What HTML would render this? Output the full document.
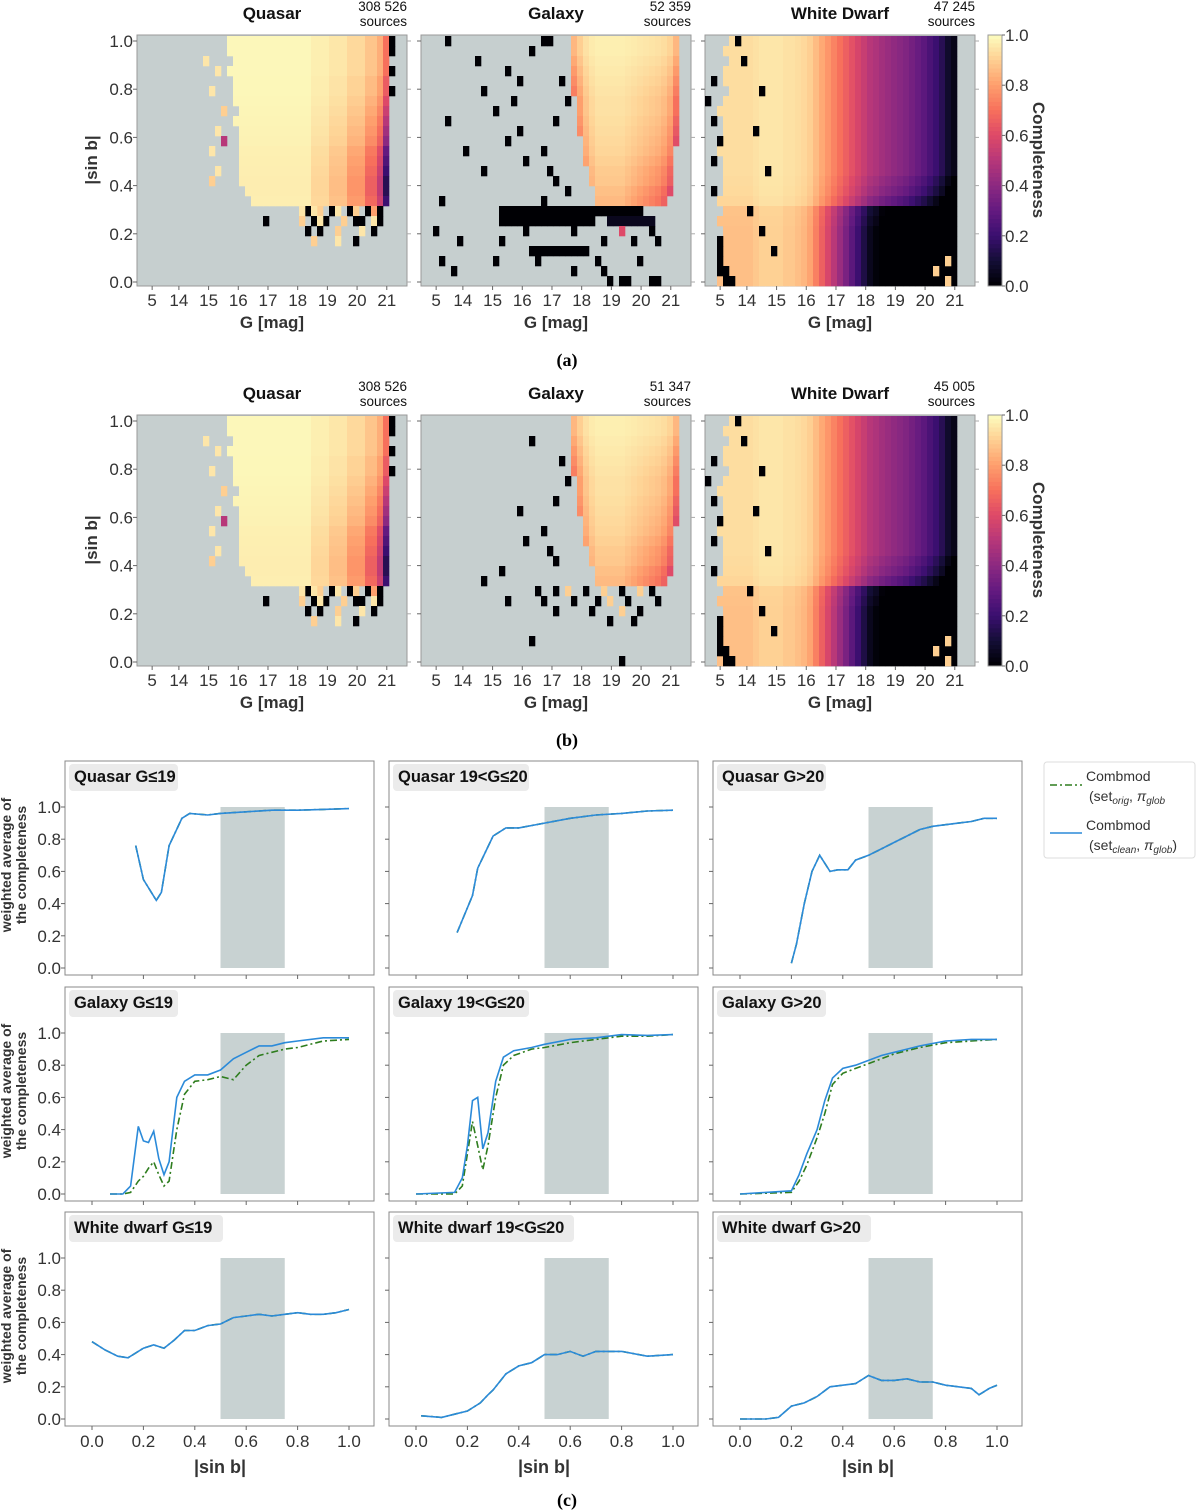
<!DOCTYPE html>
<html><head><meta charset="utf-8">
<style>
html,body{margin:0;padding:0;background:#fff;}
svg{display:block;font-family:"Liberation Sans","DejaVu Sans",sans-serif;}
.tk{font-family:"Liberation Sans Narrow","Liberation Sans",sans-serif;font-size:17px;fill:#333;}
.bold{font-weight:bold;fill:#333;}
</style></head>
<body>
<svg id="fig" width="1200" height="1512" viewBox="0 0 1200 1512" xmlns="http://www.w3.org/2000/svg"></svg>
<script>
// ---------- heatmap data (25 rows from |sin b|=1 downward, 45 magnitude columns) ----------
const quasarRowStart=[15,15,16,15,16,16,16,17,16,17,17,17,17,17,17,18,19,50,50,50,50,50,50,50,50];
const quasarRowEnd=[41,41,41,41,41,41,41,41,41,41,41,41,41,41,41,41,41,0,0,0,0,0,0,0,0];
const quasarColVal=[1,1,1,1,1,1,1,1,1,1,1,1,1,1,1,.98,.98,.98,.98,.98,.98,.98,.98,.98,.98,.98,.98,.98,.98,.95,.95,.95,.92,.92,.92,.87,.87,.87,.8,.8,.72,.5,.3,.3,.3];
const quasarRowScale=[.6,.6,.6,.6,.7,.7,.8,.9,1,1.1,1.2,1.4,1.5,1.6,1.7,1.7,1.6,1,1,1,1,1,1,1,1];
const quasarSpeckles=[[0,42,0],[1,42,0],[3,42,0],[5,42,0],[3,13,.95],[5,12,.95],[7,14,.9],[9,13,.95],[11,12,.95],[13,13,.95],[14,12,.9],[2,11,.95],[10,14,.5],
 [17,28,0],[17,30,.9],[17,32,0],[17,33,.95],[17,35,0],[17,36,.9],[17,38,0],[17,39,.8],[17,40,0],[17,27,.95],[17,29,.95],
 [18,27,.9],[18,29,0],[18,31,0],[18,34,.9],[18,36,0],[18,37,0],[18,39,.95],[18,40,0],[18,21,0],[18,30,.95],
 [19,28,0],[19,30,0],[19,33,.9],[19,37,.95],[19,39,0],[20,33,.95],[20,36,0],[20,29,.9]];
const galaxyRowStart=[25,25,25,25,25,25,26,26,26,26,27,27,27,28,28,29,29,50,50,50,50,50,50,50,50];
const galaxyRowEnd=[42,42,42,42,42,42,42,42,42,42,42,41,41,41,41,41,40,0,0,0,0,0,0,0,0];
const galaxyColVal=[1,1,1,1,1,1,1,1,1,1,1,1,1,1,1,1,1,1,1,1,1,1,1,1,.6,.7,.8,.88,.92,.94,.94,.94,.94,.94,.93,.92,.91,.9,.89,.88,.86,.82,.7,.6,.6];
const galaxyRowScale=[.5,.5,.6,.7,.8,.9,1,1,1.1,1.2,1.3,1.4,1.6,1.8,1.9,2.2,2.4,1,1,1,1,1,1,1,1];
const galaxyBandsA=[[17,13,36,0],[18,13,28,0],[18,31,38,.05],[21,18,27,0]];
const galaxySpecklesA=[[0,4,0],[0,20,0],[0,21,0],[1,18,0],[2,9,.0],[3,14,0],[4,16,0],[4,23,0],[5,10,0],[6,15,0],[6,24,0],[7,12,0],[8,4,0],[8,22,0],[9,16,0],[10,14,0],[11,7,0],[11,20,0],[12,17,0],[13,21,0],[13,10,0],[14,22,0],[15,24,.0],[16,3,0],[16,20,0],[19,2,0],[19,17,0],[19,25,0],[19,33,.6],[19,38,0],[20,6,0],[20,13,0],[20,30,0],[20,35,0],[20,39,0],[22,3,0],[22,12,0],[22,19,0],[22,29,0],[22,36,0],[23,5,0],[23,25,0],[23,30,0],[24,31,0],[24,33,0],[24,34,0],[24,38,0],[24,39,0]];
const galaxyBandsB=[];
const galaxySpecklesB=[[2,18,0],[4,23,0],[6,24,0],[8,22,0],[9,16,0],[11,20,0],[12,17,0],[13,21,0],[14,22,0],[15,13,0],[16,10,0],[17,19,0],[17,22,0],[17,24,.9],[17,27,0],[17,30,.9],[17,33,0],[17,36,.9],[17,38,0],[18,14,0],[18,20,0],[18,25,0],[18,29,0],[18,31,.9],[18,34,0],[18,39,0],[19,22,0],[19,28,0],[19,33,.9],[19,36,0],[20,31,0],[20,35,0],[22,18,0],[24,33,0]];
const wdRowStart=[4,3,4,3,3,4,3,2,3,3,3,2,3,3,3,3,2,3,2,3,2,2,2,2,2];
const wdRowEnd=[41,41,41,41,41,41,41,41,41,41,41,41,41,41,41,41,41,41,41,41,41,41,41,41,41];
const wdColVal=[.93,.93,.93,.93,.93,.93,.93,.93,.94,.95,.95,.95,.95,.94,.94,.93,.92,.9,.86,.82,.78,.74,.7,.66,.62,.58,.54,.5,.48,.45,.43,.41,.39,.37,.34,.31,.28,.24,.2,.15,.08,.04,0,0,0];
const wdRowScale=[1,1,1,1,1,1,1,1,1,1,1,1,1,1,1.05,1.1,1.2,1.8,1.85,1.9,1.9,1.9,1.9,1.9,1.9];
const wdSpeckles=[[0,5,0],[2,6,0],[4,1,0],[6,0,0],[8,1,0],[10,2,0],[12,1,0],[15,1,0],[20,2,0],[21,2,0],[22,2,0],[23,2,0],[23,3,0],[24,3,0],[24,4,0],[23,38,.9],[24,40,.9],[22,40,.9],[5,9,0],[9,8,0],[13,10,0],[17,7,0],[19,9,0],[21,11,0]];
const heatTitles=["Quasar","Galaxy","White Dwarf"];
const countsA=["308 526","52 359","47 245"];
const countsB=["308 526","51 347","45 005"];
const gTickVals=[13.1,14,15,16,17,18,19,20,21];
const gTickLabels=["5","14","15","16","17","18","19","20","21"];
const sinTicks=[0,0.2,0.4,0.6,0.8,1.0];
const cbarTicks=[0,0.2,0.4,0.6,0.8,1.0];

// ---------- line panel data ----------
const qLowX=[.17,.2,.25,.27,.3,.35,.38,.45,.5,.6,.7,.8,.9,1.0];
const qLowY=[.76,.55,.42,.47,.76,.93,.96,.95,.96,.97,.98,.98,.985,.99];
const qMidX=[.16,.22,.24,.27,.3,.35,.4,.5,.6,.7,.8,.9,1.0];
const qMidY=[.22,.45,.62,.72,.82,.87,.87,.90,.93,.95,.96,.975,.98];
const qHighX=[.2,.22,.25,.28,.31,.35,.38,.4,.42,.45,.5,.55,.6,.65,.7,.75,.8,.85,.9,.95,1.0];
const qHighY=[.03,.15,.40,.60,.70,.60,.61,.61,.61,.67,.70,.74,.78,.82,.86,.88,.89,.90,.91,.93,.93];
const gLowX=[.07,.12,.15,.18,.2,.22,.24,.26,.28,.3,.33,.36,.4,.45,.5,.55,.6,.65,.7,.75,.8,.9,1.0];
const gLowBlue=[0,0,.05,.42,.33,.32,.39,.22,.12,.2,.6,.70,.74,.74,.77,.84,.88,.92,.92,.94,.95,.97,.97];
const gLowGreen=[0,0,.01,.08,.11,.16,.20,.12,.05,.08,.40,.62,.70,.71,.73,.71,.80,.86,.88,.90,.91,.95,.96];
const gMidX=[0,.15,.18,.2,.22,.24,.26,.28,.31,.34,.38,.45,.5,.6,.7,.8,.9,1.0];
const gMidBlue=[0,.01,.1,.3,.58,.60,.28,.38,.70,.85,.89,.91,.93,.96,.97,.99,.985,.99];
const gMidGreen=[0,0,.05,.25,.45,.30,.15,.30,.60,.80,.86,.90,.91,.94,.96,.98,.98,.99];
const gHighX=[0,.1,.2,.23,.26,.3,.33,.36,.4,.45,.5,.55,.6,.65,.7,.8,.9,1.0];
const gHighBlue=[0,.01,.02,.12,.25,.40,.58,.72,.78,.80,.83,.86,.88,.90,.92,.95,.96,.96];
const gHighGreen=[0,.005,.01,.08,.18,.35,.50,.68,.75,.78,.81,.84,.87,.89,.91,.94,.95,.96];
const wLowX=[0,.05,.1,.14,.2,.24,.28,.32,.36,.4,.45,.5,.55,.6,.65,.7,.75,.8,.85,.9,.95,1.0];
const wLowY=[.48,.43,.39,.38,.44,.46,.44,.49,.55,.55,.58,.59,.63,.64,.65,.64,.65,.66,.65,.65,.66,.68];
const wMidX=[.02,.1,.15,.2,.25,.28,.3,.35,.4,.45,.5,.55,.6,.65,.7,.75,.8,.9,1.0];
const wMidY=[.02,.01,.03,.05,.1,.15,.18,.28,.33,.35,.40,.40,.42,.39,.42,.42,.42,.39,.40];
const wHighX=[0,.1,.15,.2,.25,.3,.35,.4,.45,.5,.55,.6,.65,.7,.75,.8,.85,.9,.93,.97,1.0];
const wHighY=[0,0,.01,.08,.1,.14,.2,.21,.22,.27,.24,.24,.25,.23,.23,.21,.2,.19,.15,.19,.21];
const yTicksLine=[0,0.2,0.4,0.6,0.8,1.0];
const xTicksLine=[0,0.2,0.4,0.6,0.8,1.0];

const NS="http://www.w3.org/2000/svg";
const svg=document.getElementById('fig');
function el(tag,attrs,parent,text){const e=document.createElementNS(NS,tag);for(const k in attrs)e.setAttribute(k,attrs[k]);if(text!==undefined)e.textContent=text;(parent||svg).appendChild(e);return e;}
const magma=[[0,0,4],[20,14,54],[59,15,112],[100,26,128],[140,41,129],[183,55,121],[222,73,104],[247,112,92],[254,159,109],[254,207,146],[252,253,191]];
function cmap(v){v=Math.max(0,Math.min(1,v));const t=v*10;const i=Math.min(9,Math.floor(t));const f=t-i;const a=magma[i],b=magma[i+1];return 'rgb('+a.map((x,k)=>Math.round(x+(b[k]-x)*f)).join(',')+')';}

const HEAT_W=270,HEAT_H=251,CELL_W=6,CELL_H=10;
function gScale(left,g){return left+(g-12.59)*29.7;}
function sScale(top,s){return top+247-241*s;}

function drawHeat(left,top,idx,title,count,rs,re,cv,rsc,bands,speck,showY){
  const g=el('g',{},svg);
  
  
  const bg=el('rect',{x:left,y:top,width:HEAT_W,height:HEAT_H,fill:'#c6cfcf',stroke:'#999','stroke-width':1},g);
  
  
  function cell(r,c,v){
    const x=left+c*CELL_W, y=top+1+r*CELL_H;
    if(x+CELL_W>left+HEAT_W)return;
    const rc=el('rect',{x:x,y:y,width:CELL_W+0.3,height:CELL_H+0.3,fill:cmap(v)},g);
    
    
  }
  for(let r=0;r<25;r++){for(let c=rs[r];c<=re[r];c++){cell(r,c,1-(1-cv[c])*rsc[r]);}}
  bands.forEach(b=>{for(let c=b[1];c<=b[2];c++)cell(b[0],c,b[3]);});
  speck.forEach(s=>cell(s[0],s[1],s[2]));
  const t=el('text',{x:left+135,y:top-16,'text-anchor':'middle','font-size':17,'font-weight':'bold',fill:'#111'},svg,title);
  
  
  const c1=el('text',{x:left+270,y:top-24,'text-anchor':'end','font-size':13.5,fill:'#111'},svg,count);
  
  
  const c2=el('text',{x:left+270,y:top-9,'text-anchor':'end','font-size':13.5,fill:'#111'},svg,'sources');
  
  
  gTickVals.forEach((gv,i)=>{const x=gScale(left,gv);
    el('line',{x1:x,x2:x,y1:top+HEAT_H,y2:top+HEAT_H+4,stroke:'#666'},svg);
    const tl=el('text',{x:x,y:top+HEAT_H+20,'text-anchor':'middle',class:'tk'},svg,gTickLabels[i]);
    
    });
  const xl=el('text',{x:left+135,y:top+HEAT_H+42,'text-anchor':'middle','font-size':17,class:'bold'},svg,'G [mag]');
  
  
  sinTicks.forEach(s=>{const y=sScale(top,s);
    el('line',{x1:left-4,x2:left,y1:y,y2:y,stroke:'#666'},svg);
    el('line',{x1:left+HEAT_W,x2:left+HEAT_W+4,y1:y,y2:y,stroke:'#aaa'},svg);
    if(showY){const tl=el('text',{x:left-4,y:y+6,'text-anchor':'end',class:'tk'},svg,s.toFixed(1));
      
      }});
  if(showY){const yl=el('text',{x:0,y:0,transform:'translate('+(left-40)+','+(top+125)+') rotate(-90)','text-anchor':'middle','font-size':17,class:'bold'},svg,'|sin b|');
    
    }
}
function drawColorbar(top){
  const g=el('g',{},svg);
  
  
  const n=60;
  for(let i=0;i<n;i++){const v=1-i/n;el('rect',{x:988,y:top+i*HEAT_H/n,width:14,height:HEAT_H/n+0.5,fill:cmap(v-0.5/n)},g);}
  el('rect',{x:988,y:top,width:14,height:HEAT_H,fill:'none',stroke:'#999'},g);
  cbarTicks.forEach(v=>{const y=top+HEAT_H-HEAT_H*v;
    el('line',{x1:1002,x2:1005,y1:y,y2:y,stroke:'#666'},g);
    const t=el('text',{x:1005,y:y+6,class:'tk'},g,v.toFixed(1));
    
    });
  const l=el('text',{x:0,y:0,transform:'translate(1033,'+(top+125)+') rotate(90)','text-anchor':'middle','font-size':17,class:'bold'},g,'Completeness');
  
  
}
const heatLefts=[137,421,705];
[[35,countsA,galaxyBandsA,galaxySpecklesA],[415,countsB,galaxyBandsB,galaxySpecklesB]].forEach((cfg,k)=>{
  const top=cfg[0];
  drawHeat(heatLefts[0],top,0,heatTitles[0],cfg[1][0],quasarRowStart,quasarRowEnd,quasarColVal,quasarRowScale,[],quasarSpeckles,true);
  drawHeat(heatLefts[1],top,1,heatTitles[1],cfg[1][1],galaxyRowStart,galaxyRowEnd,galaxyColVal,galaxyRowScale,cfg[2],cfg[3],false);
  drawHeat(heatLefts[2],top,2,heatTitles[2],cfg[1][2],wdRowStart,wdRowEnd,wdColVal,wdRowScale,[],wdSpeckles,false);
  drawColorbar(top);
});
const capA=el('text',{x:567,y:366,'text-anchor':'middle','font-family':'Liberation Serif,serif','font-size':18,'font-weight':'bold'},svg,'(a)');


const capB=el('text',{x:567,y:746,'text-anchor':'middle','font-family':'Liberation Serif,serif','font-size':18,'font-weight':'bold'},svg,'(b)');


const capC=el('text',{x:567,y:1506,'text-anchor':'middle','font-family':'Liberation Serif,serif','font-size':18,'font-weight':'bold'},svg,'(c)');



// ---------- line panels ----------
const colLefts=[65,389,713], rowTops=[761,987,1212], PW=309, PH=214;
const panels=[
 ['Quasar G≤19',qLowX,qLowY,qLowX,qLowY],['Quasar 19<G≤20',qMidX,qMidY,qMidX,qMidY],['Quasar G>20',qHighX,qHighY,qHighX,qHighY],
 ['Galaxy G≤19',gLowX,gLowBlue,gLowX,gLowGreen],['Galaxy 19<G≤20',gMidX,gMidBlue,gMidX,gMidGreen],['Galaxy G>20',gHighX,gHighBlue,gHighX,gHighGreen],
 ['White dwarf G≤19',wLowX,wLowY,wLowX,wLowY],['White dwarf 19<G≤20',wMidX,wMidY,wMidX,wMidY],['White dwarf G>20',wHighX,wHighY,wHighX,wHighY]];
panels.forEach((p,i)=>{
  const L=colLefts[i%3],T=rowTops[Math.floor(i/3)];
  const xs=v=>L+27+257*v, ys=v=>T+207-161*v;
  const g=el('g',{},svg);
  
  
  el('rect',{x:L,y:T,width:PW,height:PH,fill:'#fff',stroke:'#888','stroke-width':1},g);
  const band=el('rect',{x:xs(0.5),y:ys(1),width:xs(0.75)-xs(0.5),height:ys(0)-ys(1),fill:'#c8d2d2'},g);
  
  
  const tw=p[0].length*9+10;
  el('rect',{x:L+4,y:T+3,width:tw,height:27,rx:4,fill:'#ebebeb'},g);
  const tt=el('text',{x:L+9,y:T+21,'font-size':16.5,'font-weight':'bold',fill:'#111'},g,p[0]);
  
  
  yTicksLine.forEach(v=>{const y=ys(v);el('line',{x1:L-4,x2:L,y1:y,y2:y,stroke:'#666'},g);
    if(i%3===0){const t=el('text',{x:L-4,y:y+6,'text-anchor':'end',class:'tk'},g,v.toFixed(1));
      
      }});
  xTicksLine.forEach(v=>{const x=xs(v);el('line',{x1:x,x2:x,y1:T+PH,y2:T+PH+4,stroke:'#666'},g);
    if(i>=6){const t=el('text',{x:x,y:T+PH+21,'text-anchor':'middle',class:'tk'},g,v.toFixed(1));
      
      }});
  const gp=el('path',{d:p[3].map((x,k)=>(k?'L':'M')+xs(x).toFixed(1)+','+ys(p[4][k]).toFixed(1)).join(''),fill:'none',stroke:'#2e7d1e','stroke-width':1.6,'stroke-dasharray':'7,3,2,3'},g);
  
  
  const bp=el('path',{d:p[1].map((x,k)=>(k?'L':'M')+xs(x).toFixed(1)+','+ys(p[2][k]).toFixed(1)).join(''),fill:'none',stroke:'#2b8ad9','stroke-width':1.6},g);
  
  
  if(i%3===0){const yl=el('text',{x:0,y:0,transform:'translate('+(L-52)+','+(T+104)+') rotate(-90)','text-anchor':'middle','font-size':14,class:'bold'},g);
    
    
    el('tspan',{x:0,dy:-2},yl,'weighted average of');
    el('tspan',{x:0,dy:15},yl,'the completeness');}
  if(i>=6){const xl=el('text',{x:L+155,y:T+PH+47,'text-anchor':'middle','font-size':18,class:'bold'},g,'|sin b|');
    
    }
});
// legend
const lg=el('g',{},svg);


el('rect',{x:1044,y:762,width:151,height:96,rx:3,fill:'#fff',stroke:'#ddd'},lg);
const le1=el('line',{x1:1050,x2:1082,y1:785,y2:785,stroke:'#2e7d1e','stroke-width':1.6,'stroke-dasharray':'7,3,2,3'},lg);


el('text',{x:1086,y:781,'font-size':14,fill:'#333'},lg,'Combmod');
const t1=el('text',{x:1089,y:801,'font-size':14,fill:'#333'},lg);
t1.innerHTML='(set<tspan font-size="10" font-style="italic" dy="3">orig</tspan><tspan dy="-3">, </tspan><tspan font-style="italic">π</tspan><tspan font-size="10" font-style="italic" dy="3">glob</tspan>';
const le2=el('line',{x1:1050,x2:1082,y1:833,y2:833,stroke:'#2b8ad9','stroke-width':1.6},lg);


el('text',{x:1086,y:830,'font-size':14,fill:'#333'},lg,'Combmod');
const t2=el('text',{x:1089,y:850,'font-size':14,fill:'#333'},lg);
t2.innerHTML='(set<tspan font-size="10" font-style="italic" dy="3">clean</tspan><tspan dy="-3">, </tspan><tspan font-style="italic">π</tspan><tspan font-size="10" font-style="italic" dy="3">glob</tspan><tspan dy="-3">)</tspan>';
</script>
</body></html>
